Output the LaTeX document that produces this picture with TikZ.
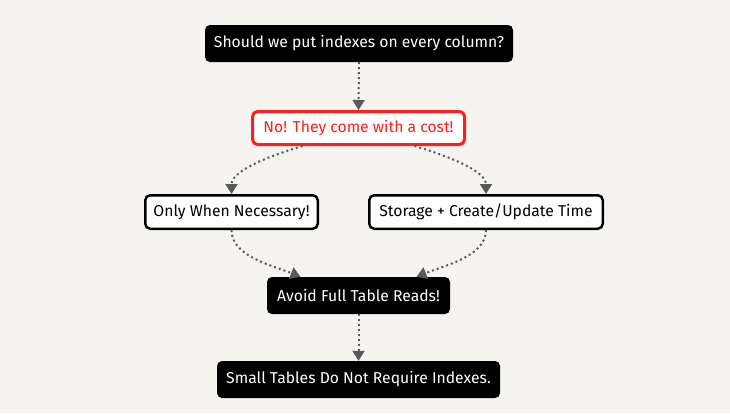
\documentclass[tikz,border=0pt]{standalone}
\usepackage{fontspec}
\setmainfont{Fira Sans}
\usetikzlibrary{arrows.meta,calc}
\definecolor{bg}{HTML}{F5F4F0}
\definecolor{edgegray}{HTML}{595959}
\definecolor{alertred}{HTML}{FF1E1E}
\begin{document}
\begin{tikzpicture}[x=1pt,y=-1pt,
  base/.style={rounded corners=5pt, inner sep=0pt, align=center,
    font=\fontsize{15.7}{17}\selectfont},
  darkbox/.style={base, fill=black, text=white, minimum height=37pt},
  lightbox/.style={base, fill=white, draw=black, line width=2.5pt,
    minimum height=33.5pt},
  alertbox/.style={base, fill=white, draw=alertred, text=alertred,
    line width=3pt, minimum height=33pt},
  flow/.style={draw=edgegray, line width=2pt, dash pattern=on 2pt off 3pt,
    -{Triangle[width=12pt,length=10pt,fill=edgegray,sep=0pt]}, shorten >=0pt}]
\fill[bg] (0,0) rectangle (730,413);
\useasboundingbox (0,0) rectangle (730,413);

\node[darkbox, minimum width=308pt] (q) at (359,43.5) {Should we put indexes on every column?};
\node[alertbox, minimum width=212pt] (no) at (358.5,128) {No! They come with a cost!};
\node[lightbox, minimum width=172.5pt] (nec) at (231.5,212) {Only When Necessary!};
\node[lightbox, minimum width=233.5pt] (cost) at (486,212) {Storage + Create/Update Time};
\node[darkbox, minimum width=183pt] (avoid) at (358.5,295.5) {Avoid Full Table Reads!};
\node[darkbox, minimum width=283pt] (small) at (358.5,379.5) {Small Tables Do Not Require Indexes.};

\draw[flow] (q.south) -- (no.north);
\draw[flow] ($(no.south)+(-56,0)$) .. controls +(-40,12) and +(0,-22) .. (nec.north);
\draw[flow] ($(no.south)+(56,0)$) .. controls +(40,12) and +(0,-22) .. (cost.north);
\draw[flow] (nec.south) .. controls +(0,26) and +(-30,-12) .. ($(avoid.north)+(-58,0)$);
\draw[flow] (cost.south) .. controls +(0,26) and +(30,-12) .. ($(avoid.north)+(58,0)$);
\draw[flow] (avoid.south) -- (small.north);
\end{tikzpicture}
\end{document}
